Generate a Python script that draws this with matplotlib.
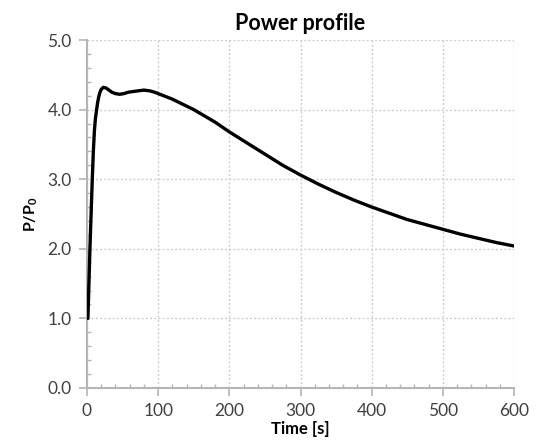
import matplotlib
matplotlib.use("Agg")
import matplotlib.pyplot as plt
from matplotlib.ticker import MultipleLocator, FormatStrFormatter

# Normalised reactor power over time
time_s = [1.4, 2.8, 4.2, 6, 7.5, 9, 10.5, 12, 13.6, 15, 16.5, 18, 20, 23, 27,
          31, 35, 40, 46, 52, 58, 65, 72, 80, 88, 95, 100, 110, 120, 130, 140,
          150, 160, 170, 180, 190, 200, 225, 250, 275, 300, 325, 350, 375,
          400, 425, 450, 475, 500, 525, 550, 575, 600]
power_ratio = [1.0, 1.5, 2.0, 2.55, 3.0, 3.4, 3.7, 3.88, 4.0, 4.1, 4.18, 4.24,
               4.29, 4.32, 4.31, 4.28, 4.25, 4.23, 4.22, 4.23, 4.25, 4.26,
               4.27, 4.28, 4.27, 4.25, 4.23, 4.19, 4.15, 4.10, 4.05, 4.00,
               3.94, 3.88, 3.82, 3.75, 3.68, 3.52, 3.36, 3.20, 3.06, 2.93,
               2.81, 2.70, 2.60, 2.51, 2.42, 2.35, 2.28, 2.21, 2.15, 2.09, 2.04]

plt.rcParams['font.family'] = ['Lato', 'DejaVu Sans']

fig = plt.figure(figsize=(5.4, 4.47), dpi=100)
ax = fig.add_axes([0.161, 0.132, 0.791, 0.7785])

ax.plot(time_s, power_ratio, color='black', lw=2.4, solid_capstyle='round',
        solid_joinstyle='round', zorder=3)

ax.set_xlim(0, 600)
ax.set_ylim(0, 5)
ax.xaxis.set_major_locator(MultipleLocator(100))
ax.xaxis.set_minor_locator(MultipleLocator(20))
ax.yaxis.set_major_locator(MultipleLocator(1))
ax.yaxis.set_minor_locator(MultipleLocator(0.2))
ax.yaxis.set_major_formatter(FormatStrFormatter('%.1f'))

grey = '#b5b5b5'
ax.grid(True, which='major', color='#cfcfcf', linestyle=(0, (1.5, 1.5)), lw=1.0)
for side in ('top', 'right'):
    ax.spines[side].set_visible(False)
for side in ('left', 'bottom'):
    ax.spines[side].set_color(grey)
    ax.spines[side].set_linewidth(1.5)

ax.tick_params(which='major', direction='out', length=6, width=1.2, color=grey,
               labelsize=12.5, labelcolor='#404040', pad=5)
ax.tick_params(which='minor', direction='in', length=3, width=1.0, color=grey)

ax.set_title('Power profile', fontsize=15.5, fontweight='bold', pad=7)
ax.set_xlabel('Time [s]', fontsize=12, fontweight='bold', labelpad=1)
ax.set_ylabel('P/P$_\\mathregular{0}$', fontsize=11.5, fontweight='bold', labelpad=5)

fig.savefig('out.png', dpi=100)
